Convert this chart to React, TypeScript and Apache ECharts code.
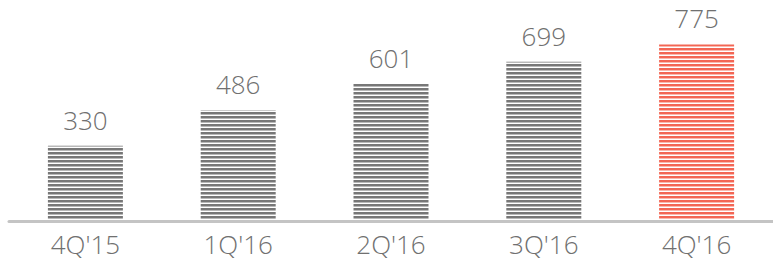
import React, { useEffect, useRef } from "react";
import * as echarts from "echarts";

const categories = ["4Q'15", "1Q'16", "2Q'16", "3Q'16", "4Q'16"];
const values = [330, 486, 601, 699, 775];
const highlightIndex = 4;

function stripe(dark: string, light: string): HTMLCanvasElement {
  const c = document.createElement("canvas");
  c.width = 4;
  c.height = 4;
  const ctx = c.getContext("2d")!;
  ctx.fillStyle = "#ffffff";
  ctx.fillRect(0, 0, 4, 4);
  ctx.fillStyle = dark;
  ctx.fillRect(0, 0, 4, 2);
  ctx.fillStyle = light;
  ctx.fillRect(0, 2, 4, 1);
  return c;
}

export default function App() {
  const ref = useRef<HTMLDivElement>(null);
  useEffect(() => {
    if (!ref.current) return;
    const chart = echarts.init(ref.current, null, { renderer: "svg" });
    const grayPat = { image: stripe("#777777", "#b8b8b8"), repeat: "repeat" };
    const redPat = { image: stripe("#f36654", "#f9b8ae"), repeat: "repeat" };
    chart.setOption({
      animation: false,
      grid: { left: 9, right: -10, top: 0, bottom: 48 },
      xAxis: {
        type: "category",
        data: categories,
        axisTick: { show: false },
        axisLine: { show: true, lineStyle: { color: "#c4c4c4", width: 3 } },
        axisLabel: {
          margin: 10,
          color: "#707070",
          fontSize: 26,
          fontFamily: "Open Sans",
          fontWeight: 300,
        },
        z: 10,
      },
      yAxis: {
        type: "value",
        min: 0,
        max: 970,
        show: false,
        splitLine: { show: false },
      },
      series: [
        {
          type: "bar",
          barWidth: 75,
          data: values.map((v, i) => ({
            value: v,
            itemStyle: { color: i === highlightIndex ? redPat : grayPat },
          })),
          label: {
            show: true,
            position: "top",
            distance: 13,
            color: "#707070",
            fontSize: 26,
            fontFamily: "Open Sans",
            fontWeight: 300,
          },
        },
      ],
    });
    return () => chart.dispose();
  }, []);
  return (
    <div
      ref={ref}
      style={{ position: "absolute", left: 0, top: 0, width: 773, height: 269 }}
    />
  );
}
